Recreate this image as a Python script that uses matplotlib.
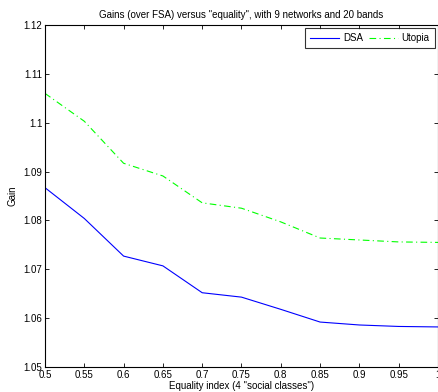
import matplotlib
matplotlib.use("Agg")
import matplotlib.pyplot as plt

x = [0.5, 0.55, 0.6, 0.65, 0.7, 0.75, 0.8, 0.85, 0.9, 0.95, 1.0]
dsa = [1.0867, 1.0804, 1.0727, 1.0707, 1.0652, 1.0643, 1.0618, 1.0592, 1.0586, 1.0583, 1.0582]
utopia = [1.1060, 1.1003, 1.0917, 1.0891, 1.0836, 1.0825, 1.0797, 1.0764, 1.0760, 1.0756, 1.0755]
xticks = [0.5, 0.55, 0.6, 0.65, 0.7, 0.75, 0.8, 0.85, 0.9, 0.95, 1.0]
xticklabels = ["0.5", "0.55", "0.6", "0.65", "0.7", "0.75", "0.8", "0.85", "0.9", "0.95", "1"]
yticks = [1.05, 1.06, 1.07, 1.08, 1.09, 1.1, 1.11, 1.12]
yticklabels = ["1.05", "1.06", "1.07", "1.08", "1.09", "1.1", "1.11", "1.12"]

plt.rcParams['font.family'] = ['Liberation Sans', 'DejaVu Sans']
fig = plt.figure(figsize=(4.39, 3.92), dpi=100)
ax = fig.add_axes([45/439, 1-367/392, 393/439, 342/392])
ax.plot(x, dsa, color=(0, 0, 1), lw=0.8, label="DSA")
ax.plot(x, utopia, color=(0, 1, 0), lw=0.8, ls=(0, (6, 3, 1, 3)), label="Utopia")
ax.set_xlim(0.5, 1.0)
ax.set_ylim(1.05, 1.12)
ax.set_xticks(xticks)
ax.set_xticklabels(xticklabels)
ax.set_yticks(yticks)
ax.set_yticklabels(yticklabels)
ax.tick_params(direction='in', top=True, right=True, labelsize=7, length=3, width=0.6, pad=2)
for s in ax.spines.values():
    s.set_linewidth(0.8)
ax.set_xlabel('Equality index (4 "social classes")', fontsize=7, labelpad=1)
ax.set_ylabel('Gain', fontsize=7, labelpad=4)
ax.set_title('Gains (over FSA) versus "equality", with 9 networks and 20 bands', fontsize=7, pad=5)
leg = ax.legend(loc='upper right', ncol=2, fontsize=7, frameon=True, fancybox=False,
                edgecolor='black', handlelength=3.0, columnspacing=0.6, handletextpad=0.4,
                borderpad=0.5, borderaxespad=0.35)
leg.get_frame().set_linewidth(0.8)
fig.savefig("out.png", dpi=100)
